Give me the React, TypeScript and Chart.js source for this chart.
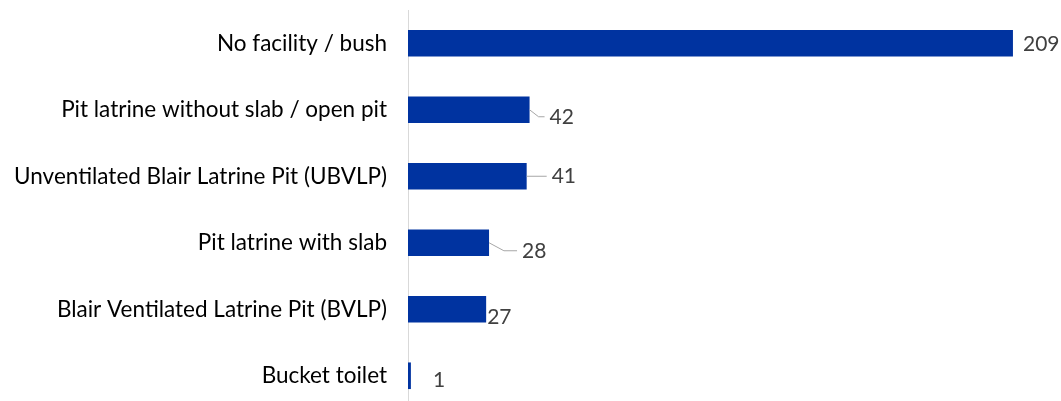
import React, { useEffect, useRef } from "react";
import { Chart, registerables } from "chart.js";

Chart.register(...registerables);

const categories = [
  "No facility / bush",
  "Pit latrine without slab / open pit",
  "Unventilated Blair Latrine Pit (UBVLP)",
  "Pit latrine with slab",
  "Blair Ventilated Latrine Pit (BVLP)",
  "Bucket toilet",
];
const values = [209, 42, 41, 28, 27, 1];

// label offsets (px) from bar end: [dx, dy, leader]
const labelOffsets: [number, number, number][] = [
  [10, 1, 0],
  [20, 7, 1],
  [25, 0, 1],
  [33, 8, 1],
  [1, 8, 0],
  [22, 4, 0],
];

const FONT = "Lato, 'Open Sans', sans-serif";

const labelPlugin = {
  id: "barLabels",
  afterDatasetsDraw(chart: any) {
    const ctx = chart.ctx;
    const meta = chart.getDatasetMeta(0);
    ctx.save();
    meta.data.forEach((bar: any, i: number) => {
      const [dx, dy, leader] = labelOffsets[i];
      const x = bar.x;
      const y = bar.y;
      const tx = x + dx;
      const ty = y + dy;
      if (leader) {
        ctx.strokeStyle = "#a6a6a6";
        ctx.lineWidth = 1;
        ctx.beginPath();
        ctx.moveTo(x, y);
        if (dy > 2) {
          ctx.lineTo(x + dx * 0.45, ty);
        }
        ctx.lineTo(tx - 5, ty);
        ctx.stroke();
      }
      ctx.fillStyle = "#404040";
      ctx.font = `21px ${FONT}`;
      ctx.textAlign = "left";
      ctx.textBaseline = "middle";
      ctx.fillText(String(values[i]), tx, ty);
    });
    ctx.restore();
  },
};

export default function App() {
  const ref = useRef<HTMLCanvasElement>(null);
  useEffect(() => {
    const canvas = ref.current!;
    const chart = new Chart(canvas, {
      type: "bar",
      data: {
        labels: categories,
        datasets: [
          {
            data: values,
            backgroundColor: "#0033a0",
            borderWidth: 0,
            barPercentage: 0.4,
            categoryPercentage: 1,
          },
        ],
      },
      options: {
        indexAxis: "y",
        responsive: false,
        animation: false,
        maintainAspectRatio: false,
        layout: { padding: { top: 10, bottom: 0, left: 0, right: 0 } },
        plugins: {
          legend: { display: false },
          tooltip: { enabled: false },
        },
        scales: {
          x: {
            display: false,
            min: 0,
            max: 225.6,
          },
          y: {
            afterFit(scale: any) {
              scale.width = 408;
              scale.paddingTop = 0;
              scale.paddingBottom = 0;
            },
            grid: { display: false, drawTicks: true, tickLength: 21 },
            border: { display: true, color: "#d9d9d9", width: 1 },
            ticks: {
              color: "#000000",
              padding: 0,
              font: { family: FONT, size: 22.5 },
            },
          },
        },
      },
      plugins: [labelPlugin],
    });
    return () => chart.destroy();
  }, []);
  return (
    <div
      style={{
        position: "fixed",
        left: 0,
        top: 0,
        width: 1061,
        height: 401,
        overflow: "hidden",
        background: "#ffffff",
      }}
    >
      <canvas ref={ref} width={1061} height={409} />
    </div>
  );
}
